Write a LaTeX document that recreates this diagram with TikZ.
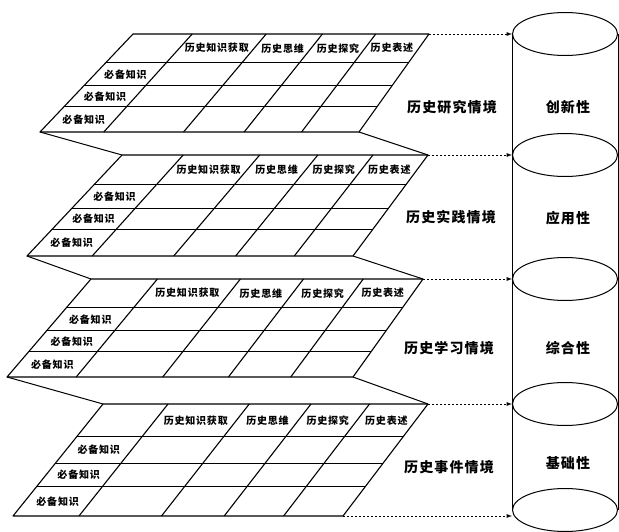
\documentclass[tikz,border=0pt]{standalone}
\usepackage{fontspec}
\newfontfamily\cjk[LetterSpace=8]{Noto Sans CJK SC}
\usetikzlibrary{shapes,arrows,positioning,calc}

\begin{document}
\begin{tikzpicture}[x=1pt,y=-1pt]
\tikzstyle{sheet}=[line width=1.1pt,line join=round]
\tikzstyle{fold}=[line width=1pt]
\tikzstyle{cell}=[font=\cjk\bfseries\fontsize{10}{12}\selectfont,inner sep=0pt]
\tikzstyle{scene}=[font=\cjk\bfseries\fontsize{14}{16}\selectfont,inner sep=0pt]
\tikzstyle{disc}=[draw,ellipse,line width=1pt,minimum width=105pt,minimum height=43pt,inner sep=0pt]
\tikzstyle{link}=[-latex,line width=0.9pt,dash pattern=on 2pt off 2pt]

\useasboundingbox (0,0) rectangle (619,532);

% the four sheets, each a slanted table
\foreach \n/\xa/\xb/\xc/\xd/\ya/\yb in {1/133/429/40/359/34/132, 2/122/428/27/353/155/256, 3/91/423/7/353/279/377, 4/103/428/13/343/404/516}
{
	\coordinate (tl\n) at (\xa,\ya);
	\coordinate (tr\n) at (\xb,\ya);
	\coordinate (bl\n) at (\xc,\yb);
	\coordinate (br\n) at (\xd,\yb);
	\draw [sheet] (tl\n) -- (tr\n) -- (br\n) -- (bl\n) -- cycle;
	\foreach \v in {0.29,0.53,0.74}
		\draw [sheet] ($(tl\n)!\v!(bl\n)$) -- ($(tr\n)!\v!(br\n)$);
	\foreach \u in {0.2,0.45,0.64,0.82}
		\draw [sheet] ($(tl\n)!\u!(tr\n)$) -- ($(bl\n)!\u!(br\n)$);
	\foreach \um/\txt [count=\k] in {0.325/历史知识获取,0.545/历史思维,0.73/历史探究,0.91/历史表述}
		\node (h\n\k) [cell] at ($ ($(tl\n)!0.145!(bl\n)$)!\um!($(tr\n)!0.145!(br\n)$) $) {\txt};
	\foreach \vm [count=\k] in {0.41,0.635,0.87}
		\node (r\n\k) [cell] at ($ ($(tl\n)!\vm!(bl\n)$)!0.1!($(tr\n)!\vm!(br\n)$) $) {必备知识};
}

% folds between the sheets
\foreach \n/\m in {1/2,2/3,3/4}
{
	\draw [fold] (bl\n) -- (tl\m);
	\draw [fold] (br\n) -- (tr\m);
}

% scene names
\node (s1) [scene] at (452,107) {历史研究情境};
\node (s2) [scene] at (451,217) {历史实践情境};
\node (s3) [scene] at (449,348) {历史学习情境};
\node (s4) [scene] at (449,467) {历史事件情境};

% the cylinder
\node (e1) [disc] at (565,34) {};
\node (e2) [disc] at (565,155) {};
\node (e3) [disc] at (565,279) {};
\node (e4) [disc] at (565,404) {};
\node (e5) [disc] at (565,510) {};
\draw [fold] (e1.west) -- (e5.west) (e1.east) -- (e5.east);

\node (c1) [scene] at (568,107) {创新性};
\node (c2) [scene] at (568,218) {应用性};
\node (c3) [scene] at (568,348) {综合性};
\node (c4) [scene] at (568,463) {基础性};

\foreach \n in {1,...,4}
	\draw [link] (tr\n) -- (tr\n -| e\n.west);
\draw [link] (br4) -- (br4 -| e5.west);
\end{tikzpicture}
\end{document}
